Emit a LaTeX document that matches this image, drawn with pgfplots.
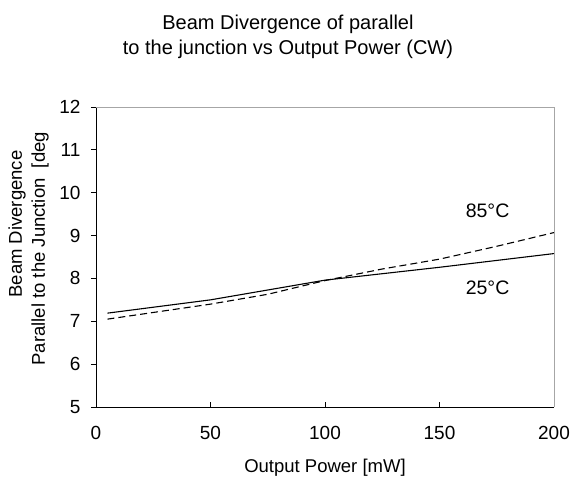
\documentclass[border=0pt]{standalone}
\usepackage{fontspec}
\setmainfont{Liberation Sans}
\usepackage{pgfplots}
\pgfplotsset{compat=1.18}

\begin{document}
\begin{tikzpicture}[x=1pt,y=1pt]
\useasboundingbox (0,0) rectangle (574,481);
\begin{axis}[
    at={(96pt,74pt)}, anchor=south west,
    scale only axis,
    width=458pt, height=300pt,
    xmin=0, xmax=200, ymin=5, ymax=12,
    xtick={0,50,...,200}, ytick={5,6,...,12},
    axis x line*=bottom, axis y line*=left,
    axis line style={-, black, line width=0.9pt},
    tick style={black, line width=0.8pt},
    major tick length=5pt,
    xtick align=inside,
    ytick align=outside,
    tick label style={font=\fontsize{19}{22}\selectfont},
    /pgf/number format/assume math mode=true,
    xticklabel style={yshift=-16pt},
    yticklabel style={xshift=-7pt},
    xlabel={Output Power [mW]},
    xlabel style={font=\fontsize{18.5}{21}\selectfont, yshift=-12pt},
    clip=false,
]
\draw[gray!70, line width=0.9pt] (axis cs:0,12) -- (axis cs:200,12) -- (axis cs:200,5);
\addplot[black, line width=1.1pt] coordinates {
  (5,7.19) (50,7.50) (100,7.96) (150,8.26) (200,8.58)
};
\addplot[black, line width=1.1pt, dash pattern=on 7pt off 4pt] coordinates {
  (5,7.05) (50,7.40) (75,7.63) (100,7.95) (125,8.22) (150,8.45) (175,8.75) (200,9.07)
};
\node[font=\fontsize{19.5}{22}\selectfont] at (axis cs:171,9.57) {85°C};
\node[font=\fontsize{19.5}{22}\selectfont] at (axis cs:171,7.78) {25°C};
\end{axis}
\node[align=center, inner sep=0pt, anchor=north, font=\fontsize{20}{25}\selectfont]
  at (288,466) {Beam Divergence of parallel\\to the junction vs Output Power (CW)};
\node[rotate=90, font=\fontsize{18.5}{21}\selectfont] at (17,257) {Beam Divergence};
\node[rotate=90, anchor=west, font=\fontsize{18.5}{21}\selectfont] at (40,112) {Parallel to the Junction\ \ [deg};
\end{tikzpicture}
\end{document}
